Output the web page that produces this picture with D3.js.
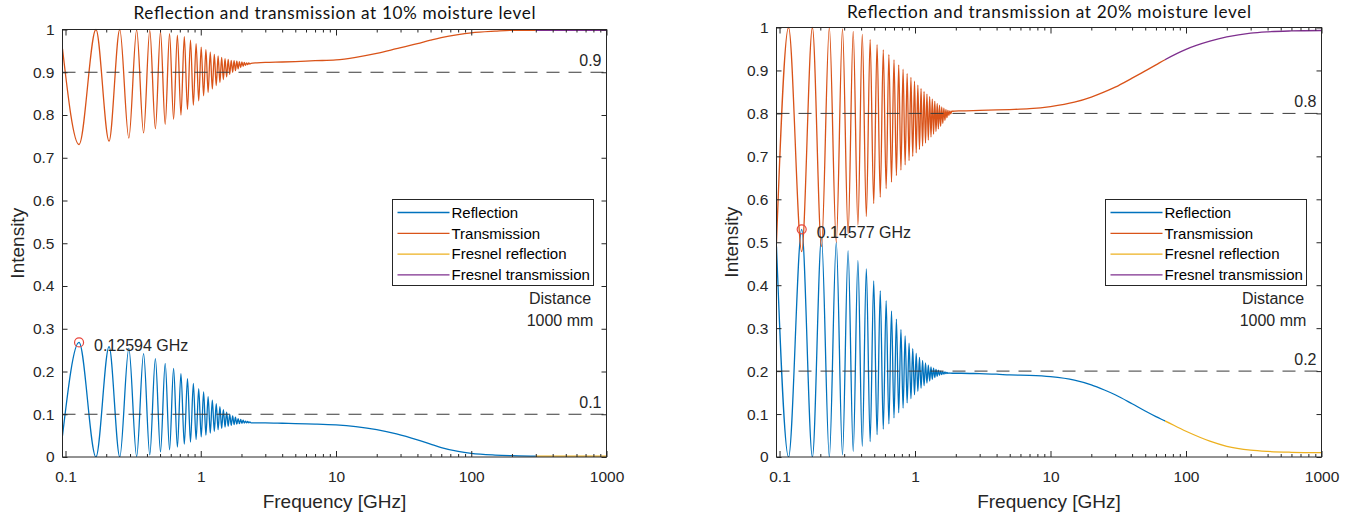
<!DOCTYPE html>
<html><head><meta charset="utf-8">
<script src="https://cdn.jsdelivr.net/npm/d3@7"></script>
<style>body{margin:0;background:#fff}</style>
</head><body>
<svg id="chart" width="1354" height="519"></svg>
<script>
// ---------------- DATA ----------------
const titles = ["Reflection and transmission at 10% moisture level", "Reflection and transmission at 20% moisture level"];
const xLabel = "Frequency [GHz]";
const yLabel = "Intensity";
const legendLabels = ["Reflection", "Transmission", "Fresnel reflection", "Fresnel transmission"];
const xTickValues = [0.1, 1, 10, 100, 1000];
const xTickLabels = ["0.1", "1", "10", "100", "1000"];
const yTickValues = [0, 0.1, 0.2, 0.3, 0.4, 0.5, 0.6, 0.7, 0.8, 0.9, 1];
const yTickLabels = ["0", "0.1", "0.2", "0.3", "0.4", "0.5", "0.6", "0.7", "0.8", "0.9", "1"];

// 10 % moisture
const freqLeft = [0.095,
  0.1259, 0.1679, 0.2099, 0.2519, 0.2939, 0.3358, 0.3778, 0.4198, 0.4618, 0.5038,
  0.5458, 0.5878, 0.6297, 0.6717, 0.7137, 0.7557, 0.7977, 0.8396, 0.8816, 0.9236,
  0.9656, 1.0076, 1.0496, 1.0915, 1.1335, 1.1755, 1.2175, 1.2594, 1.3015, 1.3434,
  1.3854, 1.4274, 1.4694, 1.5113, 1.5534, 1.5953, 1.6373, 1.6793, 1.7213, 1.7632,
  1.8053, 1.8472, 1.8892, 1.9312, 1.9732, 2.0151, 2.0572, 2.0991, 2.1411, 2.1831,
  2.2251, 2.2670, 2.3091, 2.3510,
  2.6, 3, 4, 5, 7, 10, 14, 20, 28, 40, 50, 60, 80, 100, 150, 200, 300];
const reflLeft = [0.05,
  0.268, 0, 0.258, 0, 0.254, 0.001, 0.242, 0.005, 0.230, 0.012,
  0.219, 0.017, 0.207, 0.023, 0.195, 0.030, 0.183, 0.035, 0.172, 0.041,
  0.160, 0.047, 0.152, 0.051, 0.141, 0.056, 0.133, 0.060, 0.125, 0.064,
  0.118, 0.067, 0.111, 0.070, 0.105, 0.072, 0.100, 0.074, 0.096, 0.076,
  0.093, 0.077, 0.090, 0.078, 0.088, 0.079, 0.086, 0.0795, 0.084, 0.080,
  0.083, 0.080, 0.082, 0.080,
  0.080, 0.080, 0.079, 0.078, 0.077, 0.075, 0.071, 0.064, 0.054, 0.040, 0.030, 0.022, 0.013, 0.0085, 0.0045, 0.003, 0.002];
const transLeft = [0.955,
  0.731, 1.0, 0.739, 1.0, 0.746, 0.999, 0.758, 0.998, 0.768, 0.995,
  0.778, 0.990, 0.790, 0.987, 0.800, 0.983, 0.813, 0.975, 0.823, 0.967,
  0.833, 0.959, 0.845, 0.953, 0.853, 0.947, 0.861, 0.942, 0.869, 0.938,
  0.876, 0.935, 0.883, 0.932, 0.889, 0.930, 0.895, 0.928, 0.900, 0.927,
  0.904, 0.926, 0.908, 0.925, 0.911, 0.924, 0.914, 0.923, 0.916, 0.922,
  0.918, 0.922, 0.919, 0.921,
  0.922, 0.923, 0.924, 0.925, 0.927, 0.929, 0.935, 0.944, 0.955, 0.967, 0.975, 0.981, 0.988, 0.992, 0.996, 0.998, 0.998];
const fresnelFreqLeft = [300, 500, 1000];
const fresnelReflLeft = [0.002, 0.002, 0.002];
const fresnelTransLeft = [0.998, 0.998, 0.998];
const refLevelsLeft = [0.9, 0.1];
const refLabelsLeft = ["0.9", "0.1"];
const markerLeft = [0.12594, 0.268];
const markerLabelLeft = "0.12594 GHz";

// 20 % moisture
const freqRight = [0.095,
  0.1166, 0.1458, 0.1749, 0.2041, 0.2332, 0.2624, 0.2916, 0.3207, 0.3499, 0.3790,
  0.4082, 0.4373, 0.4665, 0.4956, 0.5248, 0.5540, 0.5831, 0.6123, 0.6414, 0.6706,
  0.6997, 0.7289, 0.7580, 0.7872, 0.8163, 0.8455, 0.8747, 0.9038, 0.9330, 0.9621,
  0.9913, 1.0205, 1.0496, 1.0788, 1.1079, 1.1371, 1.1662, 1.1954, 1.2245, 1.2537,
  1.2828, 1.3120, 1.3411, 1.3703, 1.3994, 1.4286, 1.4578, 1.4869, 1.5161, 1.5452,
  1.5744, 1.6035, 1.6327, 1.6618, 1.6910, 1.7201, 1.7493, 1.7784, 1.8076, 1.8367,
  1.8659,
  2.2, 3, 4, 5, 7, 10, 15, 20, 25, 30, 40, 50, 60, 70];
const reflRight = [0.49,
  0, 0.53, 0, 0.51, 0, 0.50, 0.005, 0.48, 0.013, 0.457,
  0.025, 0.438, 0.036, 0.41, 0.052, 0.387, 0.065, 0.364, 0.077, 0.34,
  0.091, 0.321, 0.103, 0.297, 0.114, 0.282, 0.126, 0.265, 0.136, 0.252,
  0.145, 0.241, 0.153, 0.232, 0.160, 0.225, 0.166, 0.219, 0.172, 0.214,
  0.177, 0.210, 0.181, 0.207, 0.185, 0.204, 0.188, 0.202, 0.190, 0.200,
  0.192, 0.199, 0.193, 0.198, 0.194, 0.197, 0.1945, 0.196, 0.195, 0.1955,
  0.195,
  0.195, 0.194, 0.193, 0.191, 0.190, 0.187, 0.179, 0.168, 0.156, 0.145, 0.124, 0.107, 0.094, 0.084];
const transRight = [0.50,
  1.0, 0.478, 1.0, 0.49, 1.0, 0.50, 0.997, 0.52, 0.991, 0.54,
  0.984, 0.56, 0.972, 0.59, 0.96, 0.605, 0.948, 0.625, 0.937, 0.64,
  0.925, 0.655, 0.913, 0.668, 0.903, 0.68, 0.893, 0.69, 0.884, 0.70,
  0.875, 0.708, 0.866, 0.716, 0.858, 0.724, 0.851, 0.731, 0.845, 0.738,
  0.839, 0.745, 0.833, 0.752, 0.828, 0.758, 0.823, 0.764, 0.819, 0.77,
  0.815, 0.777, 0.812, 0.784, 0.809, 0.79, 0.807, 0.795, 0.806, 0.799,
  0.805,
  0.806, 0.807, 0.808, 0.809, 0.811, 0.816, 0.826, 0.838, 0.850, 0.861, 0.882, 0.899, 0.913, 0.925];
const fresnelFreqRight = [70, 100, 150, 200, 300, 400, 600, 1000];
const fresnelReflRight = [0.084, 0.060, 0.037, 0.025, 0.016, 0.013, 0.011, 0.010];
const fresnelTransRight = [0.925, 0.949, 0.968, 0.978, 0.987, 0.990, 0.992, 0.993];
const refLevelsRight = [0.8, 0.2];
const refLabelsRight = ["0.8", "0.2"];
const markerRight = [0.14577, 0.53];
const markerLabelRight = "0.14577 GHz";

const distanceText = ["Distance", "1000 mm"];

// ---------------- STYLE / LAYOUT ----------------
const COLORS = ["#0072BD", "#D95319", "#EDB120", "#7E2F8E"];
const AX = "#262626";
const FONT = "'Liberation Sans', Arial, Helvetica, sans-serif";
const TITLE_FONT = "Lato, 'Open Sans', sans-serif";
const svg = d3.select("#chart");

const panels = [
  {x0: 62.5, x1: 606.5, y0: 29.5, y1: 457, title: titles[0], titleW: 402, titleY: 18.5,
   freq: freqLeft, refl: reflLeft, trans: transLeft,
   fFreq: fresnelFreqLeft, fRefl: fresnelReflLeft, fTrans: fresnelTransLeft,
   levels: refLevelsLeft, levelLabels: refLabelsLeft, marker: markerLeft, markerLabel: markerLabelLeft,
   legX: 392.5, legY: 199.5, distX: 560},
  {x0: 776.5, x1: 1321.5, y0: 27.5, y1: 457, title: titles[1], titleW: 404, titleY: 17.5,
   freq: freqRight, refl: reflRight, trans: transRight,
   fFreq: fresnelFreqRight, fRefl: fresnelReflRight, fTrans: fresnelTransRight,
   levels: refLevelsRight, levelLabels: refLabelsRight, marker: markerRight, markerLabel: markerLabelRight,
   legX: 1105.5, legY: 199.5, distX: 1273}
];

const minorTicks = [];
[0.1, 1, 10, 100].forEach(d => { for (let k = 2; k <= 9; k++) minorTicks.push(d * k); });

panels.forEach((p, pi) => {
  const x = d3.scaleLog().domain([0.095, 1000]).range([p.x0, p.x1]);
  const y = d3.scaleLinear().domain([0, 1]).range([p.y1, p.y0]);
  const g = svg.append("g");
  const xs = x(p.fFreq[0]);

  const defs = svg.append("defs");
  const mkClip = (id, a, b) => defs.append("clipPath").attr("id", id).append("rect")
    .attr("x", a).attr("y", p.y0 - 1).attr("width", b - a).attr("height", p.y1 - p.y0 + 1);
  mkClip("clipA" + pi, p.x0, xs);
  mkClip("clipB" + pi, xs, p.x1);

  const line = d3.line().x(d => x(d[0])).y(d => y(d[1])).curve(d3.curveMonotoneX);
  const fullR = p.freq.map((f, i) => [f, p.refl[i]]).concat(p.fFreq.slice(1).map((f, i) => [f, p.fRefl[i + 1]]));
  const fullT = p.freq.map((f, i) => [f, p.trans[i]]).concat(p.fFreq.slice(1).map((f, i) => [f, p.fTrans[i + 1]]));

  const series = [
    [fullR, COLORS[0], "clipA"],
    [fullT, COLORS[1], "clipA"],
    [fullR, COLORS[2], "clipB"],
    [fullT, COLORS[3], "clipB"]
  ];
  series.forEach(([data, c, clip]) => {
    g.append("g").attr("clip-path", `url(#${clip + pi})`)
      .append("path").datum(data)
      .attr("d", line).attr("fill", "none").attr("stroke", c).attr("stroke-width", 1.3)
      .attr("stroke-linejoin", "round");
  });

  // reference dashed lines
  p.levels.forEach((lv, i) => {
    g.append("line").attr("x1", p.x0).attr("x2", p.x1).attr("y1", y(lv)).attr("y2", y(lv))
      .attr("stroke", "#3a3a3a").attr("stroke-width", 1).attr("stroke-dasharray", "13,9");
    g.append("text").attr("x", p.x1 - 5).attr("y", y(lv) - 6).attr("text-anchor", "end")
      .attr("font-family", FONT).attr("font-size", 16).attr("fill", AX).text(p.levelLabels[i]);
  });

  // marker
  g.append("circle").attr("cx", x(p.marker[0])).attr("cy", y(p.marker[1])).attr("r", 4.5)
    .attr("fill", "none").attr("stroke", "#E8453C").attr("stroke-width", 1.2);
  g.append("text").attr("x", x(p.marker[0]) + 15).attr("y", y(p.marker[1]) + 3).attr("dy", "0.35em")
    .attr("font-family", FONT).attr("font-size", 16).attr("fill", AX).text(p.markerLabel);

  // axes ticks
  const styleAxis = sel => {
    sel.select(".domain").remove();
    sel.selectAll("line").attr("stroke", AX);
    sel.selectAll("text").attr("font-family", FONT).attr("font-size", 15.5).attr("fill", AX);
  };
  g.append("g").attr("transform", `translate(0,${p.y1})`)
    .call(d3.axisBottom(x).tickValues(xTickValues).tickFormat((d, i) => xTickLabels[i]).tickSize(-6).tickPadding(14))
    .call(styleAxis);
  g.append("g").attr("transform", `translate(0,${p.y1})`)
    .call(d3.axisBottom(x).tickValues(minorTicks).tickFormat("").tickSize(-3)).call(styleAxis);
  g.append("g").attr("transform", `translate(0,${p.y0})`)
    .call(d3.axisTop(x).tickValues(xTickValues).tickFormat("").tickSize(-6)).call(styleAxis);
  g.append("g").attr("transform", `translate(0,${p.y0})`)
    .call(d3.axisTop(x).tickValues(minorTicks).tickFormat("").tickSize(-3)).call(styleAxis);
  g.append("g").attr("transform", `translate(${p.x0},0)`)
    .call(d3.axisLeft(y).tickValues(yTickValues).tickFormat((d, i) => yTickLabels[i]).tickSize(-5).tickPadding(8))
    .call(styleAxis);
  g.append("g").attr("transform", `translate(${p.x1},0)`)
    .call(d3.axisRight(y).tickValues(yTickValues).tickFormat("").tickSize(-5)).call(styleAxis);

  // box
  g.append("rect").attr("x", p.x0).attr("y", p.y0).attr("width", p.x1 - p.x0).attr("height", p.y1 - p.y0)
    .attr("fill", "none").attr("stroke", AX).attr("stroke-width", 1);

  // title
  g.append("text").attr("x", (p.x0 + p.x1) / 2).attr("y", p.titleY).attr("text-anchor", "middle")
    .attr("font-family", TITLE_FONT).attr("font-size", 17.2).attr("fill", "#111")
    .attr("textLength", p.titleW).attr("lengthAdjust", "spacing").text(p.title);

  // axis labels
  g.append("text").attr("x", (p.x0 + p.x1) / 2).attr("y", 508).attr("text-anchor", "middle")
    .attr("font-family", FONT).attr("font-size", 19).attr("fill", AX).text(xLabel);
  g.append("text").attr("transform", `translate(${p.x0 - 38.5},${(p.y0 + p.y1) / 2}) rotate(-90)`)
    .attr("text-anchor", "middle").attr("font-family", FONT).attr("font-size", 19).attr("fill", AX).text(yLabel);

  // legend
  const lg = g.append("g").attr("transform", `translate(${p.legX},${p.legY})`);
  lg.append("rect").attr("width", 201).attr("height", 86).attr("fill", "#fff").attr("stroke", AX).attr("stroke-width", 1);
  legendLabels.forEach((lab, i) => {
    const yy = 13 + i * 20.8;
    lg.append("line").attr("x1", 5).attr("x2", 57).attr("y1", yy).attr("y2", yy)
      .attr("stroke", COLORS[i]).attr("stroke-width", 1.3);
    lg.append("text").attr("x", 59).attr("y", yy).attr("dy", "0.35em")
      .attr("font-family", FONT).attr("font-size", 15).attr("fill", "#000").text(lab);
  });

  // distance annotation
  distanceText.forEach((s, i) => {
    g.append("text").attr("x", p.distX).attr("y", 298 + i * 22.5).attr("dy", "0.35em").attr("text-anchor", "middle")
      .attr("font-family", FONT).attr("font-size", 16).attr("fill", AX).text(s);
  });
});
</script>
</body></html>
